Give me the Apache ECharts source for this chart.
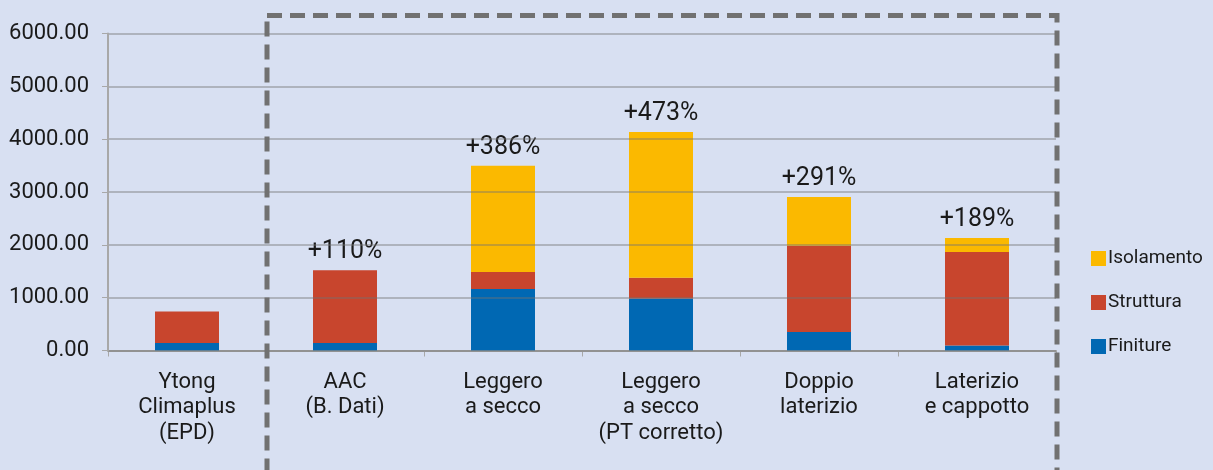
<!DOCTYPE html>
<html>
<head>
<meta charset="utf-8">
<script src="https://cdn.jsdelivr.net/npm/echarts@6/dist/echarts.min.js"></script>
<style>
html,body{margin:0;padding:0;background:#d8e0f2;}
#c{width:1213px;height:470px;}
</style>
</head>
<body>
<div id="c"></div>
<script>
const categories = ['Ytong\nClimaplus\n(EPD)', 'AAC\n(B. Dati)', 'Leggero\na secco', 'Leggero\na secco\n(PT corretto)', 'Doppio\nlaterizio', 'Laterizio\ne cappotto'];
const finiture   = [140, 140, 1165, 985, 350, 95];
const struttura  = [600, 1380, 320, 390, 1635, 1770];
const isolamento = [0, 0, 2010, 2760, 920, 265];
const pctLabels  = ['', '+110%', '+386%', '+473%', '+291%', '+189%'];
const yTicks = [0, 1000, 2000, 3000, 4000, 5000, 6000];

const FONT = 'Roboto, "Noto Sans", sans-serif';
const chart = echarts.init(document.getElementById('c'));
const option = {
  backgroundColor: '#d8e0f2',
  animation: false,
  textStyle: { fontFamily: FONT },
  grid: { left: 108, right: 157, top: 33.5, bottom: 119.5, containLabel: false },
  legend: {
    orient: 'vertical', left: 1086, top: 244,
    itemWidth: 15, itemHeight: 15, itemGap: 25,
    icon: 'rect',
    textStyle: { fontFamily: FONT, fontSize: 19, color: '#1a1a1a', padding: [0, 0, 0, -3] },
    data: ['Isolamento', 'Struttura', 'Finiture']
  },
  xAxis: {
    type: 'category', data: categories,
    axisLine: { lineStyle: { color: '#a8a8a8', width: 2 } },
    axisTick: { show: true, length: 6, lineStyle: { color: '#a8a8a8' } },
    axisLabel: { fontFamily: FONT, fontSize: 22, color: '#1a1a1a', lineHeight: 25.5, margin: 19, interval: 0 }
  },
  yAxis: {
    type: 'value', min: yTicks[0], max: yTicks[yTicks.length - 1], interval: 1000, z: 3,
    axisLine: { show: true, lineStyle: { color: '#a8a8a8', width: 2 } },
    axisTick: { show: true, length: 6, lineStyle: { color: '#a8a8a8' } },
    splitLine: { lineStyle: { color: 'rgba(115,115,115,0.55)', width: 1.5 } },
    axisLabel: { fontFamily: FONT, fontSize: 22, color: '#1a1a1a', margin: 19, formatter: v => v.toFixed(2) }
  },
  series: [
    { name: 'Finiture', type: 'bar', stack: 't', barWidth: 64, data: finiture, itemStyle: { color: '#0068b3' } },
    { name: 'Struttura', type: 'bar', stack: 't', barWidth: 64, data: struttura, itemStyle: { color: '#c8452d' } },
    { name: 'Isolamento', type: 'bar', stack: 't', barWidth: 64, data: isolamento, itemStyle: { color: '#fbb900' },
      label: { show: true, position: 'top', distance: 6, fontFamily: FONT, fontSize: 25, color: '#1a1a1a',
        formatter: p => pctLabels[p.dataIndex] } }
  ]
};
chart.setOption(option);

// dashed frame around the comparison group (decoration)
const x0 = chart.convertToPixel({ xAxisIndex: 0 }, 0);
const x1 = chart.convertToPixel({ xAxisIndex: 0 }, 1);
const x5 = chart.convertToPixel({ xAxisIndex: 0 }, 5);
const step = x1 - x0;
const leftX = (x0 + x1) / 2 + 1;
const rightX = x5 + step / 2 + 1;
chart.setOption({
  graphic: [{
    type: 'rect', z: 10, silent: true,
    shape: { x: leftX, y: 15.5, width: rightX - leftX, height: 520 },
    style: { fill: 'none', stroke: '#717171', lineWidth: 5, lineDash: [15, 8] }
  }]
});
</script>
</body>
</html>
